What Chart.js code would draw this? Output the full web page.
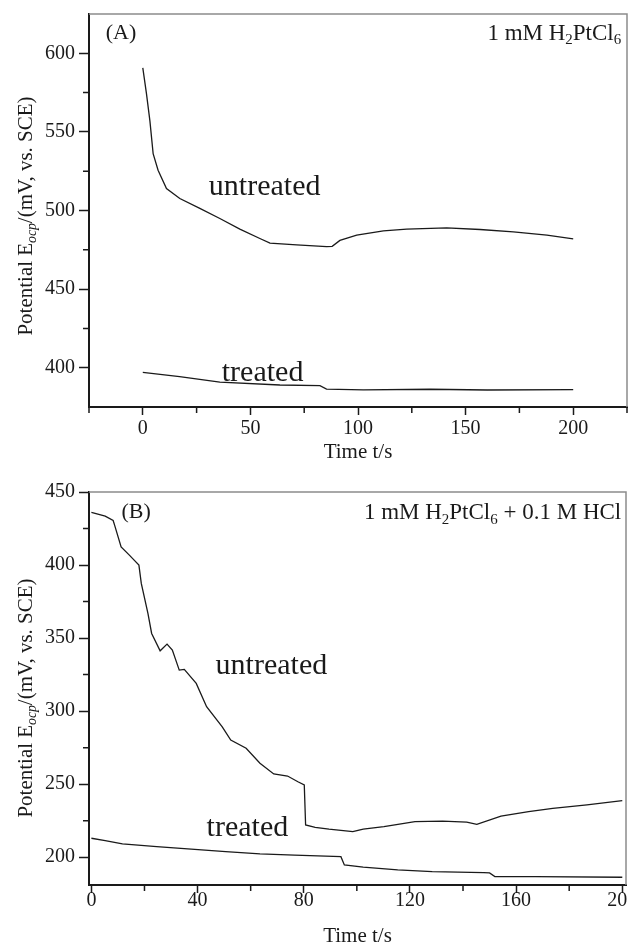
<!DOCTYPE html>
<html>
<head>
<meta charset="utf-8">
<script src="https://cdn.jsdelivr.net/npm/chart.js@4"></script>
<style>
    html, body { margin: 0; padding: 0; background: #fff; }
    #wrap { position: relative; width: 628px; height: 946px; }
    .panel { position: absolute; left: 0; width: 628px; }
</style>
</head>
<body>
<div id="wrap">
    <div class="panel" style="top:0;height:460px"><canvas id="chartA" width="628" height="460"></canvas></div>
    <div class="panel" style="top:460px;height:486px"><canvas id="chartB" width="628" height="486"></canvas></div>
</div>
<script>
// Panel A: 1 mM H2PtCl6
const timeA_untreated = [0, 1.7, 3.3, 4.8, 7.1, 11, 17.2, 26.5, 35.8, 45.1, 54.4, 59.1, 71.5, 85.4, 88, 91.6, 99.4, 111.8, 122.6, 141.2, 156.7, 172.2, 187.8, 200];
const potA_untreated  = [590.7, 574.3, 557, 536.2, 525.6, 514, 507.6, 501.3, 494.9, 488.2, 482.2, 479.2, 478.1, 477, 477.2, 481, 484.3, 487, 488.1, 489, 487.9, 486.4, 484.3, 482];
const timeA_treated = [0, 17.1, 35.8, 63.7, 82.3, 85.4, 102.5, 133.5, 160, 200];
const potA_treated  = [397, 394.3, 390.8, 389, 388.6, 386.4, 385.9, 386.3, 385.8, 386];

// Panel B: 1 mM H2PtCl6 + 0.1 M HCl
const timeB_untreated = [0, 5.2, 8.2, 8.8, 11.2, 14.3, 17.9, 18.8, 21.3, 22.7, 25.9, 28.5, 30.5, 33.1, 35, 39.5, 43.4, 49.3, 52.5, 58.3, 63.5, 68.7, 73.9, 77.8, 80.2, 80.7, 84.3, 89.5, 98.5, 102.4, 110.2, 121.9, 132.3, 141.4, 145.2, 154.3, 164.7, 173.8, 186.7, 200];
const potB_untreated  = [436, 433.5, 430.5, 427, 412.4, 406.8, 400, 387.4, 366.9, 353.2, 341.3, 345.9, 341.8, 328.1, 328.6, 319, 303, 289.3, 280.2, 274.6, 264.3, 257, 255.6, 251.7, 249.5, 222.1, 220.5, 219.2, 217.5, 219.2, 220.9, 224.4, 224.7, 224, 222.5, 228.2, 231.2, 233.5, 235.8, 238.7];
const timeB_treated = [0, 5.2, 11.7, 24.6, 37.6, 50.6, 63.5, 76.5, 94, 95.3, 102.4, 115.4, 128.4, 147.8, 150, 152, 167.2, 200];
const potB_treated  = [213, 211.4, 209.1, 207.3, 205.5, 203.9, 202.3, 201.4, 200.4, 194.7, 193.2, 191.3, 190.2, 189.5, 189.3, 186.8, 186.7, 186.3];

// tick values
const xTicksA = [0, 50, 100, 150, 200];
const xMinorA = [-25, 25, 75, 125, 175, 225];
const yTicksA = [400, 450, 500, 550, 600];
const yMinorA = [425, 475, 525, 575];
const xTicksB = [0, 40, 80, 120, 160, 200];
const xMinorB = [20, 60, 100, 140, 180];
const yTicksB = [200, 250, 300, 350, 400, 450];
const yMinorB = [225, 275, 325, 375, 425];

const FONT = '"Liberation Serif", "Times New Roman", serif';
const INK = '#1a1a1a';

function toPoints(xs, ys) {
    return xs.map((x, i) => ({ x: x, y: ys[i] }));
}

// draw text made of runs (normal / subscript / italic)
function runFont(r, size) {
    const s = r.sub ? size * 0.65 : size;
    return (r.it ? 'italic ' : '') + s + 'px ' + FONT;
}
function drawRuns(ctx, runs, x, y, size, align) {
    let total = 0;
    runs.forEach(r => { ctx.font = runFont(r, size); total += ctx.measureText(r.t).width; });
    let cx = align === 'right' ? x - total : (align === 'center' ? x - total / 2 : x);
    ctx.textAlign = 'left';
    ctx.textBaseline = 'middle';
    runs.forEach(r => {
        ctx.font = runFont(r, size);
        ctx.fillText(r.t, cx, r.sub ? y + size * 0.3 : y);
        cx += ctx.measureText(r.t).width;
    });
}

const yTitleRuns = [{ t: 'Potential E' }, { t: 'ocp', sub: true, it: true }, { t: '/(mV, vs. SCE)' }];

const decorPlugin = {
    id: 'decor',
    afterDraw(chart) {
        const o = chart.options.plugins.decor;
        const ctx = chart.ctx;
        const a = chart.chartArea;
        const xs = chart.scales.x, ys = chart.scales.y;
        ctx.save();
        // top / right frame
        ctx.strokeStyle = '#8c8c8c';
        ctx.lineWidth = 1.5;
        ctx.beginPath();
        ctx.moveTo(a.left, a.top); ctx.lineTo(a.right, a.top); ctx.lineTo(a.right, a.bottom);
        ctx.stroke();
        // minor ticks
        ctx.strokeStyle = INK;
        ctx.lineWidth = 1.5;
        ctx.beginPath();
        o.xMinor.forEach(v => {
            const px = xs.getPixelForValue(v);
            ctx.moveTo(px, a.bottom); ctx.lineTo(px, a.bottom + 6);
        });
        o.yMinor.forEach(v => {
            const py = ys.getPixelForValue(v);
            ctx.moveTo(a.left, py); ctx.lineTo(a.left - 6, py);
        });
        ctx.stroke();
        ctx.fillStyle = INK;
        // axis titles
        drawRuns(ctx, [{ t: 'Time t/s' }], (a.left + a.right) / 2, o.xTitleY, 21, 'center');
        ctx.save();
        ctx.translate(26, o.yTitleCY);
        ctx.rotate(-Math.PI / 2);
        drawRuns(ctx, yTitleRuns, 0, 0, 21, 'center');
        ctx.restore();
        // labels inside plot
        o.labels.forEach(l => {
            drawRuns(ctx, l.runs, xs.getPixelForValue(l.x), ys.getPixelForValue(l.y), l.size, l.align || 'left');
        });
        ctx.restore();
    }
};

function makeChart(id, cfg) {
    const el = document.getElementById(id);
    if (!el) return;
    new Chart(el, {
        type: 'line',
        data: {
            datasets: [{
                label: 'untreated',
                data: toPoints(cfg.untreated[0], cfg.untreated[1]),
                borderColor: INK, borderWidth: 1.3, pointRadius: 0, tension: 0
            }, {
                label: 'treated',
                data: toPoints(cfg.treated[0], cfg.treated[1]),
                borderColor: INK, borderWidth: 1.3, pointRadius: 0, tension: 0
            }]
        },
        options: {
            responsive: false,
            animation: false,
            events: [],
            layout: { padding: cfg.padding },
            plugins: {
                legend: { display: false },
                tooltip: { enabled: false },
                decor: cfg.decor
            },
            scales: {
                x: {
                    type: 'linear',
                    min: cfg.xRange[0], max: cfg.xRange[1],
                    afterBuildTicks: s => { s.ticks = cfg.xTicks.map(v => ({ value: v })); },
                    afterFit: s => { s.height = cfg.xAxisH; s.paddingLeft = 0; s.paddingRight = 0; },
                    grid: { drawOnChartArea: false, tickLength: 8, tickWidth: 1.5, tickColor: INK },
                    border: { color: INK, width: 2 },
                    ticks: { color: INK, font: { family: FONT, size: 20 }, padding: cfg.xPad, maxRotation: 0, autoSkip: false }
                },
                y: {
                    type: 'linear',
                    min: cfg.yRange[0], max: cfg.yRange[1],
                    afterBuildTicks: s => { s.ticks = cfg.yTicks.map(v => ({ value: v })); },
                    afterFit: s => { s.width = 89; s.paddingTop = 0; s.paddingBottom = 0; },
                    grid: { drawOnChartArea: false, tickLength: 10, tickWidth: 1.5, tickColor: INK },
                    border: { color: INK, width: 2 },
                    ticks: { color: INK, font: { family: FONT, size: 20 }, padding: 4, autoSkip: false }
                }
            }
        },
        plugins: [decorPlugin]
    });
}

document.addEventListener('DOMContentLoaded', function () {
    if (typeof Chart === 'undefined') {
        console.error('Chart.js not loaded');
        return;
    }
    const cond = [{ t: '1 mM H' }, { t: '2', sub: true }, { t: 'PtCl' }, { t: '6', sub: true }];

    makeChart('chartA', {
        untreated: [timeA_untreated, potA_untreated],
        treated: [timeA_treated, potA_treated],
        xRange: [-25, 225], yRange: [375, 625],
        xTicks: xTicksA, yTicks: yTicksA,
        padding: { top: 14, right: 1, left: 0, bottom: 0 },
        xAxisH: 53, xPad: 2,
        decor: {
            xMinor: xMinorA, yMinor: yMinorA,
            xTitleY: 452, yTitleCY: 216,
            labels: [
                { runs: [{ t: '(A)' }], x: -17.2, y: 613, size: 22 },
                { runs: cond, x: 222.3, y: 612.6, size: 23, align: 'right' },
                { runs: [{ t: 'untreated' }], x: 30.7, y: 515, size: 30 },
                { runs: [{ t: 'treated' }], x: 36.7, y: 396.6, size: 30 }
            ]
        }
    });

    makeChart('chartB', {
        untreated: [timeB_untreated, potB_untreated],
        treated: [timeB_treated, potB_treated],
        xRange: [-0.9, 201.4], yRange: [181, 450],
        xTicks: xTicksB, yTicks: yTicksB,
        padding: { top: 32, right: 2, left: 0, bottom: 0 },
        xAxisH: 61, xPad: -4,
        decor: {
            xMinor: xMinorB, yMinor: yMinorB,
            xTitleY: 476, yTitleCY: 238,
            labels: [
                { runs: [{ t: '(B)' }], x: 11.3, y: 436.2, size: 22 },
                { runs: cond.concat([{ t: ' + 0.1 M HCl' }]), x: 199.6, y: 435.5, size: 23, align: 'right' },
                { runs: [{ t: 'untreated' }], x: 46.8, y: 330.8, size: 30 },
                { runs: [{ t: 'treated' }], x: 43.4, y: 220, size: 30 }
            ]
        }
    });
});
</script>
</body>
</html>
